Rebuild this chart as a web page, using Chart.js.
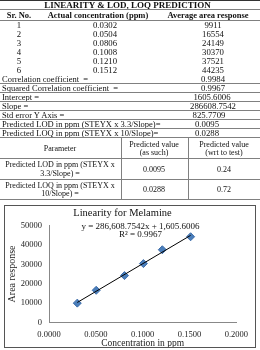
<!DOCTYPE html>
<html><head><meta charset="utf-8">
<script src="https://cdn.jsdelivr.net/npm/chart.js@4.4.0/dist/chart.umd.min.js"></script>
<style>
html,body{margin:0;padding:0;background:#fff;}
body{width:260px;height:350px;position:relative;overflow:hidden;font-family:"Liberation Serif","Times New Roman",serif;color:#111;}
#wrap{position:absolute;left:0;top:0;width:260px;height:350px;will-change:transform;}
.t{position:absolute;white-space:nowrap;font-size:8.75px;line-height:9px;}
.b{font-weight:bold;font-size:8.5px;}
.s{font-size:8.5px;}
.p{font-size:8px;}
.hl{position:absolute;left:0;width:260px;height:0;border-top:1px solid #808080;}
.vl{position:absolute;width:0;border-left:1px solid #808080;}
#box{position:absolute;left:4px;top:205px;width:252px;height:143px;border:1px solid #555;box-sizing:border-box;background:#fff;}
#c{position:absolute;left:0;top:0;}
</style></head><body>
<div id="wrap">
<div id="tbl"></div>
<div id="box"><canvas id="c" width="250" height="141"></canvas></div>
</div>
<script>
// ---- data ----
const tableTitle = 'LINEARITY & LOD, LOQ PREDICTION';
const headers = ['Sr. No.', 'Actual concentration (ppm)', 'Average area response'];
const srNo = ['1', '2', '3', '4', '5', '6'];
const concentration = [0.0302, 0.0504, 0.0806, 0.1008, 0.1210, 0.1512];
const areaResponse = [9911, 16554, 24149, 30370, 37521, 44235];
const statLabels = ['Correlation coefficient  =', 'Squared Correlation coefficient  =', 'Intercept =', 'Slope =', 'Std error Y Axis =', 'Predicted LOD in ppm (STEYX x 3.3/Slope)=', 'Predicted LOQ in ppm (STEYX x 10/Slope)='];
const statValues = ['0.9984', '0.9967', '1605.6006', '286608.7542', '825.7709', '0.0095', '0.0288'];
const paramHeaders = ['Parameter', ['Predicted value', '(as such)'], ['Predicted value', '(wrt to test)']];
const paramLabels = [['Predicted LOD in ppm (STEYX x', '3.3/Slope) ='], ['Predicted LOQ in ppm (STEYX x', '10/Slope) =']];
const paramAsSuch = ['0.0095', '0.0288'];
const paramWrtTest = ['0.24', '0.72'];
const chartTitle = 'Linearity for Melamine';
const equationText = 'y = 286,608.7542x + 1,605.6006';
const r2Text = 'R² = 0.9967';
const trendX = [0.0302, 0.1512];
const trendY = [10261, 44941];
const xTickLabels = ['0.0000', '0.0500', '0.1000', '0.1500', '0.2000'];
const yTickLabels = ['0', '10000', '20000', '30000', '40000', '50000'];
const xTitle = 'Concentration in ppm';
const yTitle = 'Area response';

// ---- table layout ----
const tbl = document.getElementById('tbl');
function txt(s, cx, cy, align, cls) {
  const d = document.createElement('div');
  d.className = 't' + (cls ? ' ' + cls : '');
  d.textContent = s;
  d.style.left = cx + 'px';
  d.style.top = cy + 'px';
  d.style.transform = align === 'left' ? 'translate(0,-50%)' : 'translate(-50%,-50%)';
  tbl.appendChild(d);
  return d;
}
function hl(y, color) {
  const d = document.createElement('div');
  d.className = 'hl';
  d.style.top = y + 'px';
  if (color) d.style.borderTopColor = color;
  tbl.appendChild(d);
}
function vl(x, y0, y1) {
  const d = document.createElement('div');
  d.className = 'vl';
  d.style.left = x + 'px';
  d.style.top = y0 + 'px';
  d.style.height = (y1 - y0) + 'px';
  tbl.appendChild(d);
}
hl(0, '#333');
txt(tableTitle, 127.5, 5, 'c', 'b').style.fontSize = '9px';
hl(9);
const hx = [19, 98, 208];
headers.forEach((h, i) => txt(h, hx[i], 14.5, 'c', 'b'));
hl(20);
srNo.forEach((s, i) => {
  const y = 24.5 + i * 9;
  txt(s, 19, y);
  txt(concentration[i].toFixed(4), 105, y);
  txt(String(areaResponse[i]), 213, y);
});
const sy = [78.5, 88, 97, 106, 115, 124, 133];
const svx = [213, 213, 212, 213, 209, 207, 207];
statLabels.forEach((s, i) => {
  const d = txt(s, 2, sy[i], 'left', 's');
  d.style.whiteSpace = 'pre';
  txt(statValues[i], svx[i], sy[i]);
});
[83, 92, 101, 110, 119, 128, 137, 158, 179, 199].forEach(y => hl(y));
vl(121, 137, 200);
vl(188, 137, 200);
const pcx = [60, 154, 224];
txt(paramHeaders[0], pcx[0], 147.5, 'c', 'p');
txt(paramHeaders[1][0], pcx[1], 143.5, 'c', 'p'); txt(paramHeaders[1][1], pcx[1], 152, 'c', 'p');
txt(paramHeaders[2][0], pcx[2], 143.5, 'c', 'p'); txt(paramHeaders[2][1], pcx[2], 152, 'c', 'p');
const prowY = [168.5, 189];
paramLabels.forEach((l, i) => {
  txt(l[0], pcx[0], prowY[i] - 4.5, 'c', 'p');
  txt(l[1], pcx[0], prowY[i] + 4, 'c', 'p');
  txt(paramAsSuch[i], pcx[1], prowY[i], 'c', 'p');
  txt(paramWrtTest[i], pcx[2], prowY[i], 'c', 'p');
});

// equation labels inside chart
const box = document.getElementById('box');
function boxTxt(s, cx, cy, size) {
  const d = document.createElement('div');
  d.className = 't';
  d.textContent = s;
  d.style.fontSize = size + 'px';
  d.style.lineHeight = size + 'px';
  d.style.left = (cx - 5) + 'px';
  d.style.top = (cy - 206) + 'px';
  d.style.transform = 'translate(-50%,-50%)';
  d.style.zIndex = 2;
  box.appendChild(d);
}
boxTxt(equationText, 140.5, 225.5, 9);
boxTxt(r2Text, 140.5, 233.5, 9);

// ---- chart ----
const font = 'Liberation Serif';
new Chart(document.getElementById('c'), {
  type: 'scatter',
  data: {
    datasets: [
      {
        type: 'line',
        data: trendX.map((x, i) => ({x: x, y: trendY[i]})),
        borderColor: '#000',
        borderWidth: 1,
        pointRadius: 0,
        fill: false
      },
      {
        data: concentration.map((x, i) => ({x: x, y: areaResponse[i]})),
        pointStyle: 'rectRot',
        pointRadius: 4,
        backgroundColor: '#4a7ebb',
        borderColor: '#3d6ca8',
        borderWidth: 1
      }
    ]
  },
  options: {
    responsive: false,
    animation: false,
    devicePixelRatio: 1,
    layout: {padding: {left: 0, right: 15, top: 0, bottom: 0}},
    plugins: {
      legend: {display: false},
      tooltip: {enabled: false},
      title: {
        display: true,
        text: chartTitle,
        color: '#111',
        font: {family: font, size: 10.5, weight: 'normal', lineHeight: 1.2},
        padding: {top: 1, bottom: 6}
      }
    },
    scales: {
      x: {
        type: 'linear',
        min: 0, max: 0.2,
        grid: {display: false, drawTicks: false},
        border: {display: true, color: '#888', width: 1},
        ticks: {
          stepSize: 0.05,
          padding: 7,
          color: '#222',
          font: {family: font, size: 8.5},
          maxRotation: 0,
          autoSkip: false,
          callback: (v, i) => xTickLabels[i]
        },
        title: {display: true, text: xTitle, color: '#222', font: {family: font, size: 9.5, lineHeight: 1}, padding: {top: 0, bottom: -1.5}},
        afterFit: s => { s.height = 24.7; }
      },
      y: {
        min: 0, max: 50000,
        grid: {display: false, drawTicks: false},
        border: {display: true, color: '#888', width: 1},
        ticks: {
          stepSize: 10000,
          padding: 7,
          color: '#222',
          font: {family: font, size: 8.5},
          callback: (v, i) => yTickLabels[i]
        },
        title: {display: true, text: yTitle, color: '#222', font: {family: font, size: 10, lineHeight: 1}, padding: {top: 2, bottom: 0}},
        afterFit: s => { s.width = 44; }
      }
    }
  }
});
</script>
</body></html>
